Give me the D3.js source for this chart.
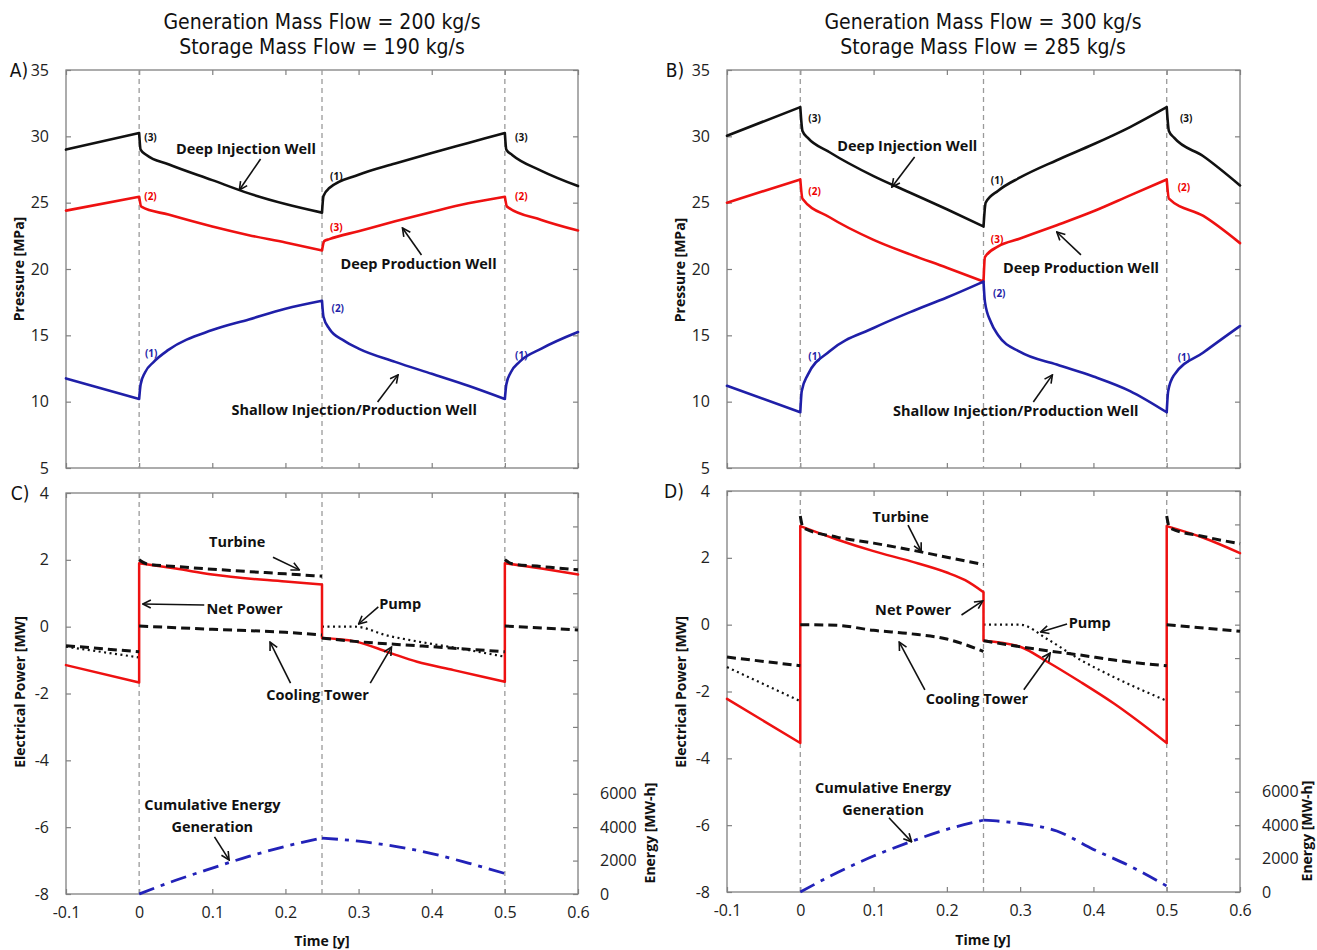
<!DOCTYPE html>
<html>
<head>
<meta charset="utf-8">
<script src="https://cdn.jsdelivr.net/npm/d3@7"></script>
<style>
body { margin:0; background:#fff; }
.tick text { font-family:"Open Sans", sans-serif; font-size:16px; fill:#222; }
.title { font-family:"DejaVu Sans Condensed","DejaVu Sans",sans-serif; font-size:21px; fill:#111; }
.note { font-family:"Open Sans", sans-serif; font-weight:700; font-size:14.5px; fill:#111; }
.num { font-family:"Open Sans", sans-serif; font-weight:700; font-size:10px; }
.alabel { font-family:"Open Sans", sans-serif; font-weight:700; font-size:14px; fill:#111; }
</style>
</head>
<body>
<svg width="1317" height="950"></svg>
<script>
//---------data: time [y] vs value-----------
var xTicks = [-0.1, 0, 0.1, 0.2, 0.3, 0.4, 0.5, 0.6];
var pTicks = [5, 10, 15, 20, 25, 30, 35];
var wTicks = [-8, -6, -4, -2, 0, 2, 4];
var eTicks = [0, 2000, 4000, 6000, 8000, 10000, 12000, 14000, 16000, 18000, 20000, 22000, 24000];
var eLabels = [0, 2000, 4000, 6000];
var phaseLines = [0, 0.25, 0.5];

var titlesLeft = ["Generation Mass Flow = 200 kg/s", "Storage Mass Flow = 190 kg/s"];
var titlesRight = ["Generation Mass Flow = 300 kg/s", "Storage Mass Flow = 285 kg/s"];

// A) 200 kg/s pressures [MPa]
var injA = [[-0.1,29.0],[0,30.25],[0.002,29.0],[0.01,28.6],[0.04,27.9],[0.1,26.7],[0.15,25.7],[0.2,24.9],[0.25,24.25],
  [0.252,25.5],[0.26,26.1],[0.3,27.1],[0.35,27.95],[0.4,28.75],[0.45,29.5],[0.5,30.25],[0.502,29.0],[0.51,28.6],[0.55,27.4],[0.6,26.25]];
var prodA = [[-0.1,24.4],[0,25.45],[0.003,24.7],[0.04,24.1],[0.1,23.2],[0.15,22.55],[0.2,22.0],[0.25,21.4],
  [0.253,22.1],[0.26,22.25],[0.3,22.85],[0.35,23.6],[0.4,24.3],[0.45,24.95],[0.5,25.45],[0.503,24.7],[0.55,23.7],[0.6,22.9]];
var shalA = [[-0.1,11.75],[0,10.2],[0.002,11.3],[0.008,12.2],[0.02,13.0],[0.04,13.9],[0.1,15.4],[0.15,16.2],[0.2,17.0],[0.25,17.6],
  [0.252,16.4],[0.26,15.5],[0.28,14.6],[0.3,14.0],[0.35,13.0],[0.4,12.1],[0.45,11.2],[0.5,10.2],
  [0.502,11.3],[0.508,12.2],[0.52,13.0],[0.55,14.0],[0.6,15.25]];

// B) 300 kg/s pressures [MPa]
var injB = [[-0.1,30.05],[0,32.2],[0.003,30.4],[0.01,29.9],[0.04,28.8],[0.1,27.0],[0.15,25.75],[0.2,24.5],[0.25,23.2],
  [0.253,25.0],[0.27,25.9],[0.3,26.9],[0.35,28.2],[0.4,29.4],[0.45,30.7],[0.5,32.2],[0.503,30.4],[0.51,29.9],[0.55,28.5],[0.6,26.3]];
var prodB = [[-0.1,25.0],[0,26.75],[0.003,25.3],[0.04,23.9],[0.1,22.2],[0.15,21.1],[0.2,20.1],[0.25,19.05],
  [0.252,20.9],[0.27,21.7],[0.3,22.3],[0.35,23.3],[0.4,24.35],[0.45,25.55],[0.5,26.75],[0.503,25.3],[0.55,24.0],[0.6,21.95]];
var shalB = [[-0.1,11.2],[0,9.2],[0.002,10.8],[0.01,12.0],[0.04,13.8],[0.1,15.55],[0.15,16.75],[0.2,17.85],[0.25,19.05],
  [0.252,17.5],[0.26,16.0],[0.27,15.0],[0.3,13.75],[0.35,12.8],[0.4,11.9],[0.45,10.8],[0.5,9.2],
  [0.502,10.8],[0.51,12.0],[0.55,13.7],[0.6,15.7]];

// C) 200 kg/s power [MW], energy [MW-h]
var netC = [[-0.1,-1.15],[0,-1.67],[0,1.9],[0.05,1.74],[0.1,1.56],[0.2,1.35],[0.25,1.26],
  [0.25,-0.34],[0.295,-0.44],[0.34,-0.76],[0.38,-1.05],[0.43,-1.3],[0.5,-1.65],[0.5,1.9],[0.55,1.74],[0.6,1.56]];
var turbC = [[[0,2.0],[0.01,1.88],[0.05,1.8],[0.1,1.72],[0.2,1.58],[0.25,1.51]],
  [[0.5,2.0],[0.51,1.88],[0.55,1.8],[0.6,1.7]]];
var coolC = [[[-0.1,-0.57],[0,-0.75]],[[0,0.02],[0.1,-0.08],[0.2,-0.17],[0.25,-0.25]],
  [[0.25,-0.34],[0.295,-0.44],[0.38,-0.57],[0.5,-0.75]],[[0.5,0.02],[0.6,-0.1]]];
var pumpC = [[[-0.1,-0.6],[0,-0.92]],[[0.25,0],[0.295,0],[0.34,-0.27],[0.38,-0.44],[0.44,-0.66],[0.5,-0.9]]];
var energyC = [[0,0],[0.05,820],[0.1,1550],[0.15,2250],[0.2,2850],[0.25,3350],
  [0.3,3160],[0.35,2850],[0.4,2420],[0.45,1850],[0.5,1230]];

// D) 300 kg/s power [MW], energy [MW-h]
var netD = [[-0.1,-2.22],[0,-3.54],[0,2.95],[0.05,2.55],[0.1,2.2],[0.15,1.9],[0.2,1.56],[0.225,1.33],[0.25,0.97],
  [0.25,-0.48],[0.3,-0.66],[0.337,-1.11],[0.382,-1.71],[0.428,-2.36],[0.5,-3.54],[0.5,2.95],[0.55,2.6],[0.6,2.14]];
var turbD = [[[0,3.25],[0.004,2.9],[0.05,2.62],[0.1,2.44],[0.15,2.24],[0.2,2.02],[0.25,1.8]],
  [[0.5,3.25],[0.504,2.9],[0.55,2.64],[0.6,2.42]]];
var coolD = [[[-0.1,-0.97],[0,-1.23]],[[0,0.0],[0.05,-0.02],[0.1,-0.17],[0.15,-0.27],[0.2,-0.43],[0.25,-0.8]],
  [[0.25,-0.48],[0.3,-0.66],[0.337,-0.78],[0.382,-0.91],[0.428,-1.06],[0.5,-1.23]],[[0.5,0.0],[0.6,-0.2]]];
var pumpD = [[[-0.1,-1.27],[0,-2.29]],[[0.25,0],[0.3,0],[0.337,-0.43],[0.382,-1.05],[0.428,-1.57],[0.5,-2.28]]];
var energyD = [[0,0],[0.05,1150],[0.1,2150],[0.15,3000],[0.2,3750],[0.25,4300],
  [0.3,4100],[0.35,3650],[0.4,2550],[0.45,1550],[0.5,360]];

// annotation texts [t, value, text, colour]
var numsA = [[0.007,29.9,"(3)","#111"],[0.007,25.5,"(2)","#e00"],[0.008,13.6,"(1)","#1f1fa8"],
  [0.261,27.0,"(1)","#111"],[0.261,23.1,"(3)","#e00"],[0.263,17.06,"(2)","#1f1fa8"],
  [0.514,29.9,"(3)","#111"],[0.514,25.43,"(2)","#e00"],[0.514,13.45,"(1)","#1f1fa8"]];
var numsB = [[0.011,31.31,"(3)","#111"],[0.011,25.81,"(2)","#e00"],[0.011,13.37,"(1)","#1f1fa8"],
  [0.260,26.64,"(1)","#111"],[0.260,22.26,"(3)","#e00"],[0.263,18.12,"(2)","#1f1fa8"],
  [0.518,31.38,"(3)","#111"],[0.515,26.18,"(2)","#e00"],[0.515,13.30,"(1)","#1f1fa8"]];
var notesA = [[0.146,29.05,"Deep Injection Well"],[0.382,20.38,"Deep Production Well"],[0.294,9.38,"Shallow Injection/Production Well"]];
var notesB = [[0.146,29.27,"Deep Injection Well"],[0.383,20.08,"Deep Production Well"],[0.294,9.30,"Shallow Injection/Production Well"]];
var notesC = [[0.134,2.53,"Turbine"],[0.144,0.53,"Net Power"],[0.357,0.68,"Pump"],[0.244,-2.04,"Cooling Tower"],
  [0.100,-5.34,"Cumulative Energy"],[0.100,-5.99,"Generation"]];
var notesD = [[0.137,3.22,"Turbine"],[0.154,0.44,"Net Power"],[0.395,0.05,"Pump"],[0.241,-2.22,"Cooling Tower"],
  [0.113,-4.89,"Cumulative Energy"],[0.113,-5.55,"Generation"]];
// arrows [t1, v1, t2, v2] pointing to (t2, v2)
var arrowsA = [[0.166,28.29,0.137,25.96],[0.386,21.06,0.360,23.09],[0.326,9.98,0.354,12.02]];
var arrowsB = [[0.156,28.44,0.125,26.18],[0.383,21.06,0.350,22.79],[0.318,9.98,0.344,12.02]];
var arrowsC = [[0.183,2.08,0.219,1.70],[0.089,0.65,0.005,0.68],[0.327,0.59,0.300,0.08],
  [0.207,-1.69,0.179,-0.46],[0.316,-1.69,0.345,-0.61],[0.103,-6.29,0.123,-6.98]];
var arrowsD = [[0.147,2.98,0.165,2.20],[0.220,0.29,0.249,0.71],[0.364,0.02,0.328,-0.22],
  [0.170,-1.95,0.135,-0.52],[0.305,-1.95,0.341,-0.85],[0.121,-5.78,0.152,-6.50]];

//---------drawing-----------
var svg = d3.select("svg");
var grey = "#808080";

svg.append("defs").append("marker")
  .attr("id", "arr")
  .attr("viewBox", "0 0 10 10")
  .attr("refX", 9).attr("refY", 5)
  .attr("markerWidth", 10).attr("markerHeight", 10)
  .attr("markerUnits", "userSpaceOnUse")
  .attr("orient", "auto")
  .append("path")
  .attr("d", "M1,1 L9,5 L1,9")
  .attr("fill", "none").attr("stroke", "#111").attr("stroke-width", 1.6);

var styleAxis = function(g)
{
  g.select(".domain").remove();
  g.selectAll(".tick line").attr("stroke", grey).attr("stroke-width", 1.2);
}

var makePanel = function(box, yDomain, yTicks, showX, energy)
{
  var xScale = d3.scaleLinear().domain([-0.1, 0.6]).range([box.left, box.right]);
  var yScale = d3.scaleLinear().domain(yDomain).range([box.bottom, box.top]);
  var eScale = d3.scaleLinear().domain([0, 24000]).range([box.bottom, box.top]);

  svg.append("g").attr("transform", "translate(" + box.left + ",0)")
    .call(d3.axisLeft(yScale).tickValues(yTicks).tickSizeInner(-5).tickSizeOuter(0).tickPadding(17).tickFormat(String))
    .call(styleAxis);
  svg.append("g").attr("transform", "translate(0," + box.top + ")")
    .call(d3.axisTop(xScale).tickValues(xTicks).tickSizeInner(-5).tickSizeOuter(0).tickFormat(""))
    .call(styleAxis);
  svg.append("g").attr("transform", "translate(0," + box.bottom + ")")
    .call(d3.axisBottom(xScale).tickValues(xTicks).tickSizeInner(-5).tickSizeOuter(0).tickPadding(13)
      .tickFormat(showX ? String : ""))
    .call(styleAxis);
  if (energy)
  {
    svg.append("g").attr("transform", "translate(" + box.right + ",0)")
      .call(d3.axisRight(eScale).tickValues(eTicks).tickSizeInner(-5).tickSizeOuter(0).tickPadding(22)
        .tickFormat(function(d) { return eLabels.indexOf(d) >= 0 ? String(d) : ""; }))
      .call(styleAxis);
  }
  else
  {
    svg.append("g").attr("transform", "translate(" + box.right + ",0)")
      .call(d3.axisRight(yScale).tickValues(yTicks).tickSizeInner(-5).tickSizeOuter(0).tickFormat(""))
      .call(styleAxis);
  }

  svg.append("rect")
    .attr("x", box.left).attr("y", box.top)
    .attr("width", box.right - box.left).attr("height", box.bottom - box.top)
    .attr("fill", "none").attr("stroke", grey).attr("stroke-width", 1.3);

  svg.append("g").selectAll("line")
    .data(phaseLines)
    .enter()
    .append("line")
    .attr("x1", function(d) { return xScale(d); })
    .attr("x2", function(d) { return xScale(d); })
    .attr("y1", box.top).attr("y2", box.bottom)
    .attr("stroke", "#9a9a9a").attr("stroke-width", 1.3).attr("stroke-dasharray", "5,4");

  return { x: xScale, y: yScale, e: eScale, box: box };
}

// split a series where it turns or jumps, so a monotone curve keeps the sharp corners
var splitTurns = function(data)
{
  var out = [], cur = [data[0]], dir = 0;
  for (var i = 1; i < data.length; i++)
  {
    var jump = data[i][0] === data[i - 1][0];
    if (jump)
    {
      out.push(cur);
      out.push([data[i - 1], data[i]]);
      cur = [data[i]];
      dir = 0;
      continue;
    }
    var d = Math.sign(data[i][1] - data[i - 1][1]);
    if (dir !== 0 && d !== 0 && d !== dir) { out.push(cur); cur = [data[i - 1]]; }
    if (d !== 0) dir = d;
    cur.push(data[i]);
  }
  out.push(cur);
  return out.filter(function(s) { return s.length > 1; });
}

var drawSeries = function(p, data, color, width, dash, useE)
{
  var yS = useE ? p.e : p.y;
  var line = d3.line()
    .curve(d3.curveMonotoneX)
    .x(function(d) { return p.x(d[0]); })
    .y(function(d) { return yS(d[1]); });
  svg.append("path")
    .attr("d", splitTurns(data).map(function(s) { return line(s); }).join(""))
    .attr("fill", "none")
    .attr("stroke", color)
    .attr("stroke-width", width)
    .attr("stroke-linejoin", "round")
    .attr("stroke-linecap", dash ? "butt" : "round")
    .attr("stroke-dasharray", dash);
}

var drawSegments = function(p, segs, color, width, dash)
{
  segs.forEach(function(s) { drawSeries(p, s, color, width, dash, false); });
}

var drawNotes = function(p, nums, notes, arrows)
{
  svg.append("g").selectAll("text")
    .data(nums)
    .enter()
    .append("text")
    .classed("num", true)
    .attr("x", function(d) { return p.x(d[0]); })
    .attr("y", function(d) { return p.y(d[1]); })
    .attr("dy", "0.35em")
    .attr("fill", function(d) { return d[3]; })
    .text(function(d) { return d[2]; });

  svg.append("g").selectAll("text")
    .data(notes)
    .enter()
    .append("text")
    .classed("note", true)
    .attr("text-anchor", "middle")
    .attr("x", function(d) { return p.x(d[0]); })
    .attr("y", function(d) { return p.y(d[1]); })
    .attr("dy", "0.36em")
    .text(function(d) { return d[2]; });

  svg.append("g").selectAll("line")
    .data(arrows)
    .enter()
    .append("line")
    .attr("x1", function(d) { return p.x(d[0]); })
    .attr("y1", function(d) { return p.y(d[1]); })
    .attr("x2", function(d) { return p.x(d[2]); })
    .attr("y2", function(d) { return p.y(d[3]); })
    .attr("stroke", "#111").attr("stroke-width", 1.6)
    .attr("marker-end", "url(#arr)");
}

var drawText = function(x, y, txt, cls, rotate)
{
  var t = svg.append("text").classed(cls, true).attr("text-anchor", "middle").text(txt);
  if (rotate) { t.attr("transform", "translate(" + x + "," + y + ") rotate(-90)").attr("dy", "0.35em"); }
  else { t.attr("x", x).attr("y", y).attr("dy", "0.35em"); }
  return t;
}

var pA = makePanel({left:66, right:578, top:70, bottom:468}, [5, 35], pTicks, false, false);
var pB = makePanel({left:727, right:1240, top:70, bottom:468}, [5, 35], pTicks, false, false);
var pC = makePanel({left:66, right:578, top:493, bottom:894}, [-8, 4], wTicks, true, true);
var pD = makePanel({left:727, right:1240, top:491, bottom:892}, [-8, 4], wTicks, true, true);

var blue = "#1f1fa8";
var red = "#ee1111";

drawSeries(pA, injA, "#111", 2.6, null);
drawSeries(pA, prodA, red, 2.6, null);
drawSeries(pA, shalA, blue, 2.6, null);
drawSeries(pB, injB, "#111", 2.6, null);
drawSeries(pB, prodB, red, 2.6, null);
drawSeries(pB, shalB, blue, 2.6, null);

[[pC, turbC, coolC, pumpC, netC, energyC], [pD, turbD, coolD, pumpD, netD, energyD]].forEach(function(s)
{
  drawSegments(s[0], s[3], "#111", 2.2, "2,3.5");
  drawSeries(s[0], s[4], red, 2.5, null);
  drawSegments(s[0], s[1], "#111", 3, "9,5");
  drawSegments(s[0], s[2], "#111", 3, "9,5");
  drawSeries(s[0], s[5], "#2222b8", 2.8, "16,7,4,7", true);
});

drawNotes(pA, numsA, notesA, arrowsA);
drawNotes(pB, numsB, notesB, arrowsB);
drawNotes(pC, [], notesC, arrowsC);
drawNotes(pD, [], notesD, arrowsD);

//---------labels-----------
drawText(322, 22, titlesLeft[0], "title");
drawText(322, 47, titlesLeft[1], "title");
drawText(983, 22, titlesRight[0], "title");
drawText(983, 47, titlesRight[1], "title");

drawText(19, 70, "A)", "title").style("font-size", "19px");
drawText(675, 70, "B)", "title").style("font-size", "19px");
drawText(20, 493, "C)", "title").style("font-size", "19px");
drawText(674, 491, "D)", "title").style("font-size", "19px");

drawText(19, 269, "Pressure [MPa]", "alabel", true);
drawText(680, 270, "Pressure [MPa]", "alabel", true);
drawText(20, 692, "Electrical Power [MW]", "alabel", true);
drawText(681, 692, "Electrical Power [MW]", "alabel", true);
drawText(650, 833, "Energy [MW-h]", "alabel", true);
drawText(1307, 831, "Energy [MW-h]", "alabel", true);
drawText(322, 941, "Time [y]", "alabel");
drawText(983, 940, "Time [y]", "alabel");
</script>
</body>
</html>
